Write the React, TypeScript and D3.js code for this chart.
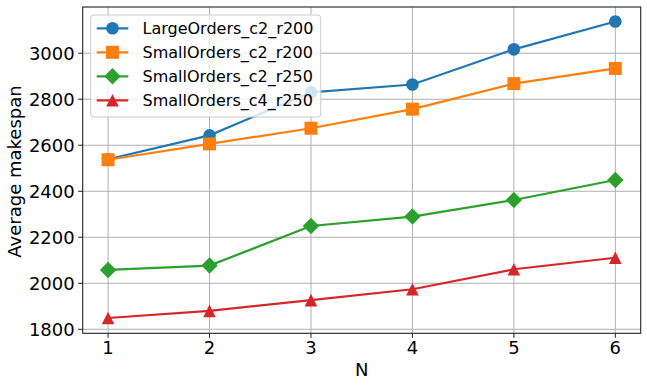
import { useEffect, useRef } from "react";
import * as d3 from "d3";

const nValues = [1, 2, 3, 4, 5, 6];
const largeC2R200 = [2539, 2643, 2830, 2864, 3017, 3138];
const smallC2R200 = [2537, 2606, 2674, 2757, 2868, 2934];
const smallC2R250 = [2058, 2077, 2249, 2290, 2362, 2449];
const smallC4R250 = [1849, 1880, 1927, 1974, 2061, 2111];
const yTicks = [1800, 2000, 2200, 2400, 2600, 2800, 3000];

const seriesNames = [
  "LargeOrders_c2_r200",
  "SmallOrders_c2_r200",
  "SmallOrders_c2_r250",
  "SmallOrders_c4_r250",
];
const seriesValues = [largeC2R200, smallC2R200, smallC2R250, smallC4R250];
const colors = ["#1f77b4", "#ff7f0e", "#2ca02c", "#d62728"];
const markers = ["circle", "square", "diamond", "triangle"];

const W = 647;
const H = 387;
const margin = { left: 82.7, right: 6.3, top: 7, bottom: 53.7 };

const FONT = "DejaVu Sans, sans-serif";

const drawMarker = (g, type, x, y, color) => {
  if (type === "circle") {
    g.append("circle").attr("cx", x).attr("cy", y).attr("r", 6.3).attr("fill", color);
  } else if (type === "square") {
    g.append("rect").attr("x", x - 6.5).attr("y", y - 6.5).attr("width", 13).attr("height", 13).attr("fill", color);
  } else if (type === "diamond") {
    const r = 8.2;
    g.append("path")
      .attr("d", `M${x},${y - r}L${x + r},${y}L${x},${y + r}L${x - r},${y}Z`)
      .attr("fill", color);
  } else {
    const r = 6.3;
    g.append("path")
      .attr("d", `M${x},${y - r}L${x + r},${y + r}L${x - r},${y + r}Z`)
      .attr("fill", color);
  }
};

export default function App() {
  const ref = useRef<SVGSVGElement>(null);

  useEffect(() => {
    const svg = d3.select(ref.current);
    svg.selectAll("*").remove();

    const x = d3.scaleLinear().domain([0.75, 6.25]).range([margin.left, W - margin.right]);
    const y = d3.scaleLinear().domain([1782.6, 3201]).range([H - margin.bottom, margin.top]);

    svg.append("rect").attr("width", W).attr("height", H).attr("fill", "#fff");

    // grid
    const grid = svg.append("g").attr("stroke", "#b0b0b0").attr("stroke-width", 1);
    nValues.forEach((n) => {
      grid.append("line")
        .attr("x1", x(n)).attr("x2", x(n))
        .attr("y1", margin.top).attr("y2", H - margin.bottom);
    });
    yTicks.forEach((t) => {
      grid.append("line")
        .attr("x1", margin.left).attr("x2", W - margin.right)
        .attr("y1", y(t)).attr("y2", y(t));
    });

    // lines + markers
    seriesValues.forEach((vals, i) => {
      const line = d3.line<number>()
        .x((_, j) => x(nValues[j]))
        .y((d) => y(d));
      svg.append("path")
        .datum(vals)
        .attr("d", line)
        .attr("fill", "none")
        .attr("stroke", colors[i])
        .attr("stroke-width", 2.2);
      const mg = svg.append("g");
      vals.forEach((v, j) => drawMarker(mg, markers[i], x(nValues[j]), y(v), colors[i]));
    });

    // frame
    svg.append("rect")
      .attr("x", margin.left).attr("y", margin.top)
      .attr("width", W - margin.left - margin.right)
      .attr("height", H - margin.top - margin.bottom)
      .attr("fill", "none").attr("stroke", "#222").attr("stroke-width", 1.1);

    // ticks
    const ax = svg.append("g");
    nValues.forEach((n) => {
      ax.append("line")
        .attr("x1", x(n)).attr("x2", x(n))
        .attr("y1", H - margin.bottom).attr("y2", H - margin.bottom + 4.5)
        .attr("stroke", "#222");
      ax.append("text")
        .attr("x", x(n)).attr("y", H - margin.bottom + 20.3)
        .attr("text-anchor", "middle")
        .attr("font-family", FONT).attr("font-size", 18)
        .attr("fill", "#000")
        .text(n);
    });
    yTicks.forEach((t) => {
      ax.append("line")
        .attr("x1", margin.left - 4.5).attr("x2", margin.left)
        .attr("y1", y(t)).attr("y2", y(t))
        .attr("stroke", "#222");
      ax.append("text")
        .attr("x", margin.left - 8).attr("y", y(t))
        .attr("dy", "0.35em")
        .attr("text-anchor", "end")
        .attr("font-family", FONT).attr("font-size", 18)
        .attr("fill", "#000")
        .text(t);
    });

    svg.append("text")
      .attr("x", (margin.left + W - margin.right) / 2).attr("y", 376)
      .attr("text-anchor", "middle")
      .attr("font-family", FONT).attr("font-size", 18)
      .text("N");
    svg.append("text")
      .attr("transform", `translate(20.5,171.5) rotate(-90)`)
      .attr("text-anchor", "middle")
      .attr("font-family", FONT).attr("font-size", 18)
      .text("Average makespan");

    // legend
    const lg = svg.append("g");
    lg.append("rect")
      .attr("x", 90.7).attr("y", 15).attr("width", 230).attr("height", 102)
      .attr("rx", 3)
      .attr("fill", "#fff").attr("fill-opacity", 0.8)
      .attr("stroke", "#ccc").attr("stroke-width", 1);
    seriesNames.forEach((name, i) => {
      const cy = 28.3 + i * 24;
      lg.append("line")
        .attr("x1", 96.7).attr("x2", 128.3)
        .attr("y1", cy).attr("y2", cy)
        .attr("stroke", colors[i]).attr("stroke-width", 2.2);
      drawMarker(lg, markers[i], 112.5, cy, colors[i]);
      lg.append("text")
        .attr("x", 142.5).attr("y", cy)
        .attr("dy", "0.35em")
        .attr("font-family", FONT).attr("font-size", 16)
        .attr("fill", "#000")
        .text(name);
    });
  }, []);

  return (
    <svg
      ref={ref}
      width={W}
      height={H}
      style={{ position: "absolute", left: 0, top: 0, display: "block" }}
    />
  );
}
